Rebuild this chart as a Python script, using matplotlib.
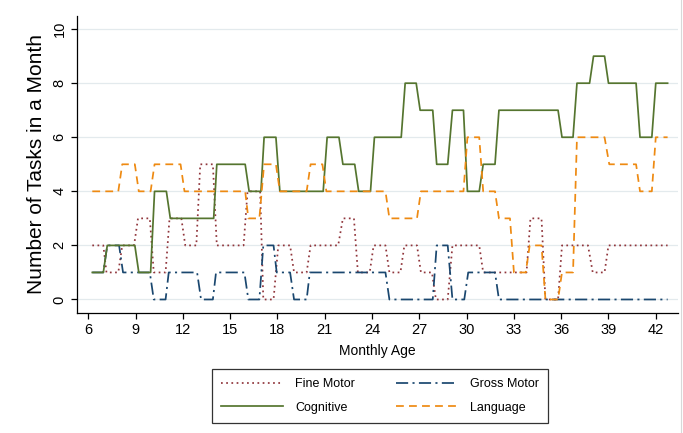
import matplotlib
matplotlib.use('Agg')
import matplotlib.pyplot as plt
from matplotlib.lines import Line2D

# monthly age / number of tasks (vertices of each line)
fine_age = [6.25, 6.95, 7.15, 7.9, 8.15, 8.9, 9.15, 9.9, 10.15, 10.9, 11.15, 11.9, 12.15, 12.85,
            13.1, 13.9, 14.15, 15.85, 16.1, 16.9, 17.1, 17.75, 18.05, 18.8, 19.05, 19.85, 20.1,
            21.85, 22.15, 22.85, 23.1, 23.85, 24.1, 24.85, 25.1, 25.8, 26.05, 26.85, 27.1, 27.8,
            28.05, 28.8, 29.1, 30.8, 31.05, 33.8, 34.05, 34.75, 35.0, 35.8, 36.05, 37.7, 38.0,
            38.75, 39.0, 42.75]
fine_val = [2, 2, 1, 1, 2, 2, 3, 3, 1, 1, 3, 3, 2, 2, 5, 5, 2, 2, 4, 4, 0, 0, 2, 2, 1, 1, 2, 2,
            3, 3, 1, 1, 2, 2, 1, 1, 2, 2, 1, 1, 0, 0, 2, 2, 1, 1, 3, 3, 0, 0, 2, 2, 1, 1, 2, 2]

gross_age = [6.25, 6.95, 7.2, 7.95, 8.2, 9.9, 10.15, 10.9, 11.1, 12.9, 13.15, 13.9, 14.1, 15.9,
             16.15, 16.85, 17.1, 17.75, 17.95, 18.8, 19.05, 19.85, 20.05, 24.85, 25.1, 27.85,
             28.1, 28.8, 29.1, 29.85, 30.1, 31.8, 32.05, 42.75]
gross_val = [1, 1, 2, 2, 1, 1, 0, 0, 1, 1, 0, 0, 1, 1, 0, 0, 2, 2, 1, 1, 0, 0, 1, 1, 0, 0, 2, 2,
             0, 0, 1, 1, 0, 0]

cog_age = [6.25, 6.95, 7.2, 8.95, 9.2, 9.95, 10.2, 10.95, 11.2, 13.95, 14.15, 15.95, 16.2, 16.95,
           17.15, 17.9, 18.15, 20.9, 21.15, 21.9, 22.15, 22.9, 23.15, 23.9, 24.15, 25.85, 26.1,
           26.8, 27.05, 27.85, 28.1, 28.8, 29.1, 29.8, 30.05, 30.8, 31.05, 31.8, 32.05, 35.8,
           36.05, 36.75, 37.0, 37.8, 38.05, 38.75, 39.0, 40.75, 41.0, 41.75, 42.0, 42.75]
cog_val = [1, 1, 2, 2, 1, 1, 4, 4, 3, 3, 5, 5, 4, 4, 6, 6, 4, 4, 6, 6, 5, 5, 4, 4, 6, 6, 8, 8,
           7, 7, 5, 5, 7, 7, 4, 4, 5, 5, 7, 7, 6, 6, 8, 8, 9, 9, 8, 8, 6, 6, 8, 8]

lang_age = [6.25, 7.9, 8.15, 8.95, 9.2, 9.95, 10.2, 11.85, 12.1, 15.95, 16.15, 16.85, 17.15, 17.9,
            18.15, 19.85, 20.1, 20.85, 21.1, 24.85, 25.1, 26.85, 27.1, 29.8, 30.05, 30.8, 31.05,
            31.8, 32.05, 32.75, 33.0, 33.75, 34.0, 34.75, 35.0, 35.8, 36.05, 36.75, 37.0, 38.75,
            39.05, 40.75, 41.0, 41.75, 42.0, 42.75]
lang_val = [4, 4, 5, 5, 4, 4, 5, 5, 4, 4, 3, 3, 5, 5, 4, 4, 5, 5, 4, 4, 3, 3, 4, 4, 6, 6, 4, 4,
            3, 3, 1, 1, 2, 2, 0, 0, 1, 1, 6, 6, 5, 5, 4, 4, 6, 6]

x_ticks = list(range(6, 43, 3))
y_ticks = list(range(0, 11, 2))

plt.rcParams['font.family'] = ['Liberation Sans', 'DejaVu Sans']

fig = plt.figure(figsize=(6.83, 4.33), dpi=100)
ax = fig.add_axes([77 / 683, 1 - 313 / 433, 601 / 683, 297.4 / 433])

for y in y_ticks:
    ax.axhline(y, color='#e3eaed', lw=0.9, zorder=0)

l_fine, = ax.plot(fine_age, fine_val, color='#90353b', lw=1.25, ls=(0, (1, 2)), label='Fine Motor')
l_gross, = ax.plot(gross_age, gross_val, color='#1a476f', lw=1.25, ls=(0, (7, 2.5, 1.2, 2.5)),
                   label='Gross Motor')
l_cog, = ax.plot(cog_age, cog_val, color='#55752f', lw=1.25, label='Cognitive')
l_lang, = ax.plot(lang_age, lang_val, color='#ee8a12', lw=1.25, ls=(0, (4.5, 3)), label='Language')

ax.set_xlim(5.28, 43.41)
ax.set_ylim(-0.5, 10.5)
ax.set_xticks(x_ticks)
ax.set_yticks(y_ticks)
ax.tick_params(axis='both', direction='out', length=4, width=0.9, labelsize=10.5, colors='black')
for lab in ax.get_yticklabels():
    lab.set_rotation(90)
    lab.set_va('center')
for s in ['top', 'right']:
    ax.spines[s].set_visible(False)
for s in ['left', 'bottom']:
    ax.spines[s].set_linewidth(0.9)

ax.set_xlabel('Monthly Age', fontsize=10, labelpad=5)
ax.set_ylabel('Number of Tasks in a Month', fontsize=15, labelpad=5)

leg = fig.legend([l_fine, l_cog, l_gross, l_lang],
                 ['Fine Motor', 'Cognitive', 'Gross Motor', 'Language'],
                 ncol=2, loc='center', bbox_to_anchor=(380 / 683, 1 - 396 / 433),
                 fontsize=9, frameon=True, fancybox=False, edgecolor='black',
                 handlelength=4.95, handletextpad=0.95, columnspacing=3.3,
                 labelspacing=0.93, borderpad=0.75)
leg.get_frame().set_linewidth(0.9)

# faint outer border on the right edge of the graph region
fig.add_artist(Line2D([680.5 / 683, 680.5 / 683], [0, 1], color='#d8d8d8', lw=0.8))

fig.savefig('out.png', dpi=100)
